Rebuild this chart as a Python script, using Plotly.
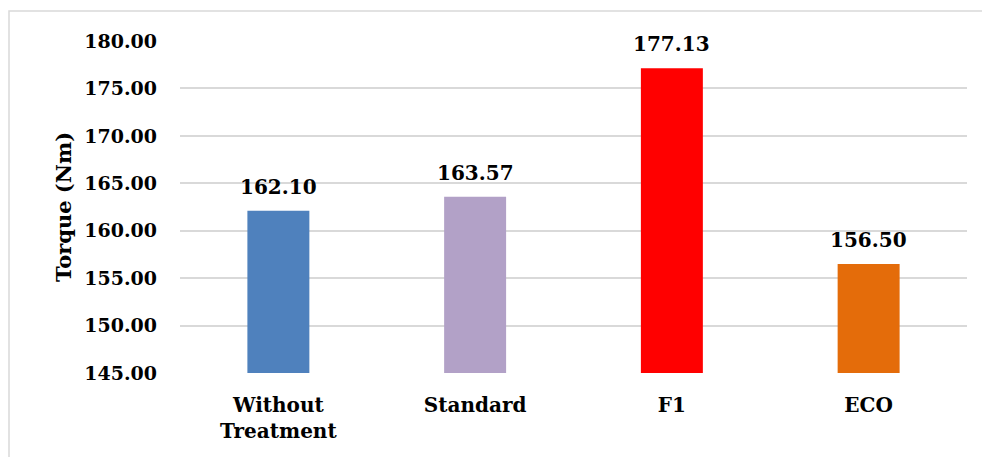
import plotly.graph_objects as go

categories = ["Without<br>Treatment", "Standard", "F1", "ECO"]
torque = [162.10, 163.57, 177.13, 156.50]
colors = ["#4F81BD", "#B2A1C7", "#FF0000", "#E46C0A"]

W, H = 982, 457
ml, mr, mt, mb = 180, 15, 41, 84
pw, ph = W - ml - mr, H - mt - mb

font_family = "DejaVu Serif"
fs = 20

fig = go.Figure(go.Bar(
    x=categories, y=torque,
    marker=dict(color=colors, line=dict(width=0)),
    width=0.315,
    cliponaxis=False,
))

annotations = [
    dict(x=c, y=v, xref="x", yref="y", text=f"<b>{v:.2f}</b>",
         showarrow=False, yanchor="bottom", yshift=10,
         font=dict(family=font_family, size=fs, color="black"))
    for c, v in zip(categories, torque)
]

fig.update_layout(
    width=W, height=H,
    margin=dict(l=ml, r=mr, t=mt, b=mb),
    paper_bgcolor="white", plot_bgcolor="white",
    font=dict(family=font_family, size=fs, color="black"),
    showlegend=False,
    annotations=annotations,
    yaxis=dict(
        range=[145, 180], dtick=5, tick0=145, tickformat=".2f",
        showgrid=True, gridcolor="#D9D9D9", gridwidth=1.5,
        zeroline=False, showline=False,
        ticklabelstandoff=22,
        title=dict(text="<b>Torque (Nm)</b>", font=dict(family=font_family, size=fs + 1), standoff=6),
        tickfont=dict(family=font_family, size=fs - 1),
        tickprefix="<b>", ticksuffix="</b>",
    ),
    xaxis=dict(
        showline=False, showgrid=False, zeroline=False,
        ticklabelstandoff=18,
        tickfont=dict(family=font_family, size=fs),
        tickprefix="<b>", ticksuffix="</b>",
    ),
    shapes=[dict(
        type="rect", xref="paper", yref="paper",
        x0=(9 - ml) / pw, x1=1.5,
        y0=-1.0, y1=(H - mb - 11) / ph,
        line=dict(color="#D9D9D9", width=1.5),
        fillcolor="rgba(0,0,0,0)", layer="below",
    )],
)

fig.write_html("out.html")
